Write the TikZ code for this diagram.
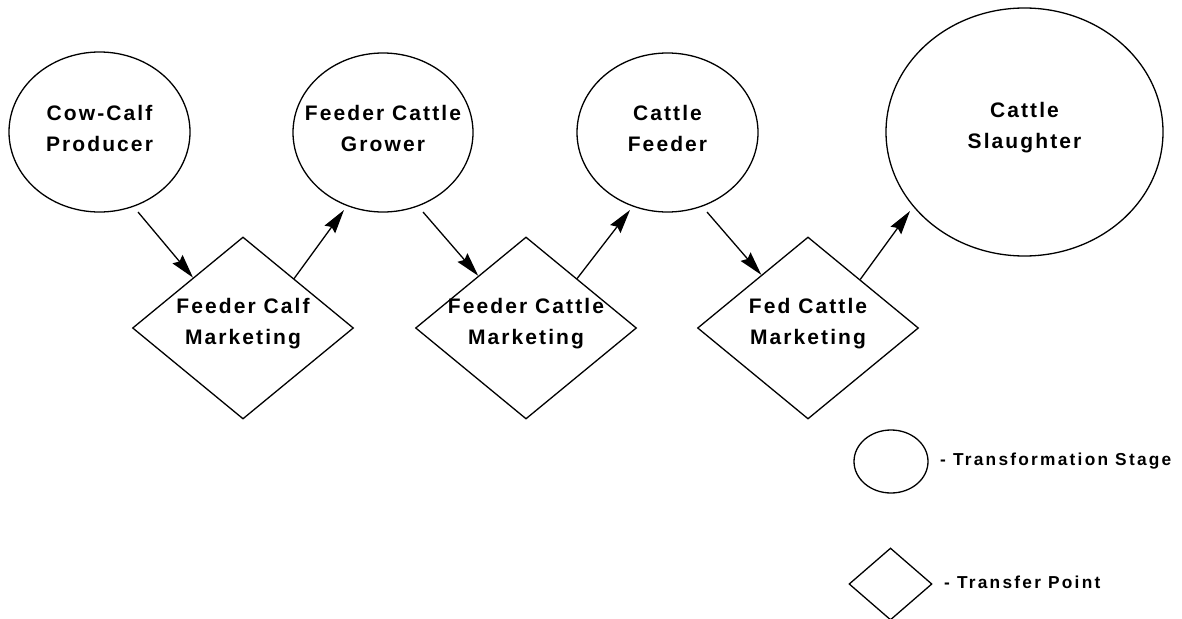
\documentclass[tikz,border=0pt]{standalone}
\usepackage{fontspec}
\setmainfont{Liberation Sans}
\newfontfamily\labfont[LetterSpace=10]{Liberation Sans Bold}
\newfontfamily\legfont[LetterSpace=13]{Liberation Sans Bold}
\usetikzlibrary{shapes.geometric,arrows.meta,calc}
\tikzset{
  stage/.style={ellipse, draw, line width=1.3pt, inner sep=0pt},
  xfer/.style={diamond, draw, line width=1.3pt, inner sep=0pt, minimum width=221pt, minimum height=182pt},
  txt/.style={align=center, inner sep=0pt, yshift=4pt, font={\labfont\fontsize{21}{31}\selectfont}},
  legtxt/.style={anchor=base west, inner sep=0pt, font={\legfont\fontsize{17.3}{20}\selectfont}},
  arr/.style={line width=1.3pt, -{Stealth[length=24pt,width=13pt,inset=3pt]}}
}
\begin{document}
\begin{tikzpicture}[x=1pt,y=-1pt]
\useasboundingbox (0,0) rectangle (1182,618);
% transformation stages
\node[stage, minimum width=181pt, minimum height=160pt, label={[txt]center:Cow-Calf\\Producer}] (cc) at (99.5,132) {};
\node[stage, minimum width=180pt, minimum height=159pt, label={[txt]center:Feeder Cattle\\Grower}] (grow) at (383,132.5) {};
\node[stage, minimum width=181pt, minimum height=159pt, label={[txt]center:Cattle\\Feeder}] (feed) at (667.5,132.5) {};
\node[stage, minimum width=277pt, minimum height=248pt, label={[txt]center:Cattle\\Slaughter}] (slau) at (1024.5,132) {};
% transfer points
\node[xfer, label={[txt]center:Feeder Calf\\Marketing}] (fcalf) at (243,328) {};
\node[xfer, label={[txt]center:Feeder Cattle\\Marketing}] (fcm) at (526,328) {};
\node[xfer, label={[txt]center:Fed Cattle\\Marketing}] (fed) at (808,328) {};
% connectors
\draw[arr] ($(cc.center)+(38.5,80)$) -- ($(fcalf.north)!0.45!(fcalf.west)$);
\draw[arr] ($(fcalf.north)!0.46!(fcalf.east)$) -- ($(grow.center)+(-39,77.5)$);
\draw[arr] ($(grow.center)+(40,79.5)$) -- ($(fcm.north)!0.43!(fcm.west)$);
\draw[arr] ($(fcm.north)!0.46!(fcm.east)$) -- ($(feed.center)+(-37.5,77.5)$);
\draw[arr] ($(feed.center)+(39.5,79.5)$) -- ($(fed.north)!0.42!(fed.west)$);
\draw[arr] ($(fed.north)!0.47!(fed.east)$) -- ($(slau.center)+(-114.5,79)$);
% legend
\node[stage, minimum width=74pt, minimum height=63pt] (legc) at (891,461.5) {};
\node[legtxt] (legct) at (940,465) {- Transformation Stage};
\node[xfer, minimum width=83pt, minimum height=72pt] (legd) at (890.5,584) {};
\node[legtxt] (legdt) at (944,588) {- Transfer Point};
\end{tikzpicture}
\end{document}
